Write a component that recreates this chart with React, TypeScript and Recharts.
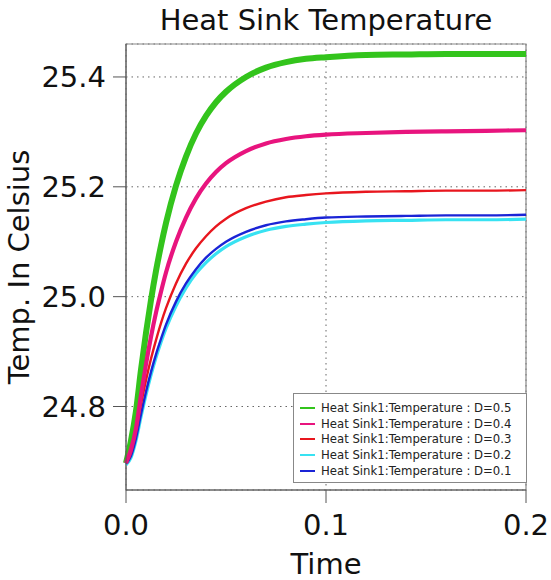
import {
  LineChart, Line, XAxis, YAxis, CartesianGrid, ReferenceArea,
} from 'recharts';

const TIME = [0, 0.0025, 0.005, 0.0075, 0.01, 0.0125, 0.015, 0.0175, 0.02, 0.025, 0.03, 0.035, 0.04, 0.045, 0.05, 0.06, 0.07, 0.08, 0.09, 0.1, 0.12, 0.14, 0.16, 0.18, 0.2];

const D05 = [24.697, 24.738, 24.792, 24.867, 24.934, 24.994, 25.047, 25.093, 25.134, 25.202, 25.255, 25.297, 25.329, 25.354, 25.373, 25.400, 25.417, 25.427, 25.433, 25.436, 25.440, 25.441, 25.442, 25.442, 25.442];
const D04 = [24.697, 24.722, 24.760, 24.821, 24.877, 24.927, 24.971, 25.009, 25.044, 25.100, 25.144, 25.179, 25.206, 25.227, 25.243, 25.265, 25.279, 25.287, 25.292, 25.295, 25.298, 25.300, 25.301, 25.302, 25.303];
const D03 = [24.697, 24.716, 24.756, 24.804, 24.848, 24.887, 24.921, 24.952, 24.979, 25.024, 25.060, 25.088, 25.110, 25.128, 25.142, 25.161, 25.173, 25.181, 25.185, 25.188, 25.191, 25.192, 25.193, 25.193, 25.194];
const D02 = [24.694, 24.707, 24.738, 24.781, 24.821, 24.857, 24.889, 24.917, 24.942, 24.983, 25.016, 25.042, 25.062, 25.078, 25.091, 25.109, 25.121, 25.128, 25.132, 25.135, 25.138, 25.139, 25.140, 25.140, 25.141];
const D01 = [24.696, 24.710, 24.742, 24.786, 24.827, 24.863, 24.895, 24.923, 24.949, 24.991, 25.024, 25.050, 25.071, 25.087, 25.100, 25.118, 25.130, 25.137, 25.141, 25.144, 25.146, 25.147, 25.148, 25.148, 25.149];

const X_TICKS = [0, 0.1, 0.2];
const Y_TICKS = [24.8, 25.0, 25.2, 25.4];
const Y_MIN = 24.648;
const Y_MAX = 25.46;

const LEGEND = [
  { key: 'd05', name: 'Heat Sink1:Temperature : D=0.5', color: '#33c41c' },
  { key: 'd04', name: 'Heat Sink1:Temperature : D=0.4', color: '#e8147e' },
  { key: 'd03', name: 'Heat Sink1:Temperature : D=0.3', color: '#e8161e' },
  { key: 'd02', name: 'Heat Sink1:Temperature : D=0.2', color: '#38e2f2' },
  { key: 'd01', name: 'Heat Sink1:Temperature : D=0.1', color: '#1a24d6' },
];

const data = TIME.map((t, i) => ({
  t,
  d05: D05[i],
  d04: D04[i],
  d03: D03[i],
  d02: D02[i],
  d01: D01[i],
}));

const FONT = '"DejaVu Sans", Verdana, sans-serif';

// legend kept outside the chart so it does not eat plot space
const LegendBox = () => (
  <div style={{
    position: 'absolute', left: 293, top: 393, width: 226, zIndex: 2,
    border: '1px solid #888', background: '#fff',
    padding: '6px 0 3px 6px', fontFamily: FONT, fontSize: 11.7, color: '#222',
  }}>
    {LEGEND.map(s => (
      <div key={s.key} style={{ display: 'flex', alignItems: 'center', height: 15.8, whiteSpace: 'nowrap' }}>
        <span style={{ display: 'inline-block', width: 15, height: 2, background: s.color, marginRight: 6 }} />
        {s.name}
      </div>
    ))}
  </div>
);

export default function App() {
  return (
    <div style={{ position: 'absolute', left: 0, top: 0, width: 551, height: 580, background: '#fff', fontFamily: FONT }}>
      <div style={{
        position: 'absolute', left: 126, width: 400, top: 3, textAlign: 'center',
        fontSize: 29, lineHeight: '34px', color: '#111', zIndex: 2,
      }}>
        Heat Sink Temperature
      </div>
      <LineChart width={551} height={580} data={data} margin={{ top: 44, right: 25, bottom: 0, left: 0 }}>
        <CartesianGrid stroke="#666" strokeDasharray="1.5 4" />
        <ReferenceArea x1={0} x2={0.2} y1={Y_MIN} y2={Y_MAX} fill="none" stroke="#888" strokeWidth={1.2} />
        <XAxis
          dataKey="t"
          type="number"
          domain={[0, 0.2]}
          ticks={X_TICKS}
          tickFormatter={(v: number) => v.toFixed(1)}
          height={90}
          stroke="#555"
          tickSize={13}
          tickMargin={11}
          tick={{ fill: '#111', fontSize: 29, fontFamily: FONT }}
          label={{
            content: () => (
              <text x={326} y={574} textAnchor="middle" fontSize={29} fontFamily={FONT} fill="#111">Time</text>
            ),
          }}
        />
        <YAxis
          type="number"
          domain={[Y_MIN, Y_MAX]}
          allowDataOverflow
          ticks={Y_TICKS}
          tickFormatter={(v: number) => v.toFixed(1)}
          width={126}
          stroke="#555"
          tickSize={13}
          tickMargin={7}
          tick={{ fill: '#111', fontSize: 29, fontFamily: FONT }}
          label={{
            content: () => (
              <text x={29} y={267} textAnchor="middle" fontSize={29} fontFamily={FONT} fill="#111"
                transform="rotate(-90, 29, 267)">Temp. In Celsius</text>
            ),
          }}
        />
        <Line type="monotone" dataKey="d05" stroke={LEGEND[0].color} strokeWidth={6} dot={false} isAnimationActive={false} />
        <Line type="monotone" dataKey="d02" stroke={LEGEND[3].color} strokeWidth={3.2} dot={false} isAnimationActive={false} />
        <Line type="monotone" dataKey="d01" stroke={LEGEND[4].color} strokeWidth={2.4} dot={false} isAnimationActive={false} />
        <Line type="monotone" dataKey="d03" stroke={LEGEND[2].color} strokeWidth={2.4} dot={false} isAnimationActive={false} />
        <Line type="monotone" dataKey="d04" stroke={LEGEND[1].color} strokeWidth={4.2} dot={false} isAnimationActive={false} />
      </LineChart>
      <LegendBox />
    </div>
  );
}
